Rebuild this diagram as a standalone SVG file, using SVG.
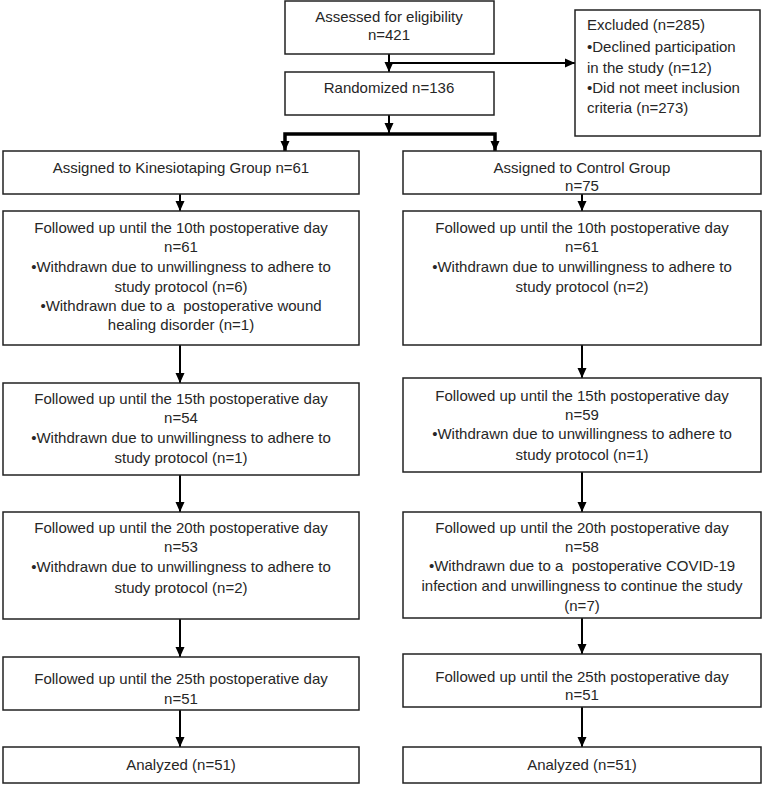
<svg xmlns="http://www.w3.org/2000/svg" width="762" height="785" viewBox="0 0 762 785">
<style>
.box{fill:#fff;stroke:#222;stroke-width:1.5}
.t{font-family:"Liberation Sans",Arial,sans-serif;font-size:15px;fill:#262626}
.c{text-anchor:middle}
.ln{stroke:#000;stroke-width:2;fill:none}
.thick{stroke:#000;stroke-width:3.5;fill:none}
</style>
<defs>
<marker id="ah" markerUnits="userSpaceOnUse" markerWidth="10" markerHeight="10" viewBox="0 0 10 10" refX="10" refY="5" orient="auto">
<path d="M0,0.5 L10,5 L0,9.5 z" fill="#000"/>
</marker>
</defs>
<g id="connectors">
<path class="ln" d="M389,54 V72" marker-end="url(#ah)"/>
<path class="ln" d="M389,63 H575" marker-end="url(#ah)"/>
<path class="ln" d="M389,115 V133" marker-end="url(#ah)"/>
<path class="thick" d="M285,151 V134 H495 V151"/>
<path class="ln" d="M285,136 V151" marker-end="url(#ah)"/>
<path class="ln" d="M495,136 V151" marker-end="url(#ah)"/>
<path class="ln" d="M180,194 V211" marker-end="url(#ah)"/>
<path class="ln" d="M582,194 V211" marker-end="url(#ah)"/>
<path class="ln" d="M180,345 V383" marker-end="url(#ah)"/>
<path class="ln" d="M582,345 V378" marker-end="url(#ah)"/>
<path class="ln" d="M180,475 V512" marker-end="url(#ah)"/>
<path class="ln" d="M582,472 V512" marker-end="url(#ah)"/>
<path class="ln" d="M180,619 V657" marker-end="url(#ah)"/>
<path class="ln" d="M582,618 V654" marker-end="url(#ah)"/>
<path class="ln" d="M180,710 V747" marker-end="url(#ah)"/>
<path class="ln" d="M582,707 V747" marker-end="url(#ah)"/>
</g>
<g id="assessed">
<rect class="box" x="285" y="1" width="209" height="53"/>
<text class="t c" x="389" y="22">Assessed for eligibility</text>
<text class="t c" x="389" y="40">n=421</text>
</g>
<g id="excluded">
<rect class="box" x="575" y="10" width="185" height="126"/>
<text class="t" x="587" y="30">Excluded (n=285)</text>
<text class="t" x="587" y="52">•Declined participation</text>
<text class="t" x="587" y="73">in the study (n=12)</text>
<text class="t" x="587" y="93">•Did not meet inclusion</text>
<text class="t" x="587" y="113">criteria (n=273)</text>
</g>
<g id="randomized">
<rect class="box" x="285" y="72" width="209" height="43"/>
<text class="t c" x="389" y="93">Randomized n=136</text>
</g>
<g id="kinesio">
<rect class="box" x="3" y="151" width="356" height="43"/>
<text class="t c" x="181" y="173">Assigned to Kinesiotaping Group n=61</text>
</g>
<g id="control">
<rect class="box" x="403" y="151" width="358" height="43"/>
<text class="t c" x="582" y="173">Assigned to Control Group</text>
<text class="t c" x="582" y="191">n=75</text>
</g>
<g id="k10">
<rect class="box" x="3" y="211" width="356" height="134"/>
<text class="t c" x="181" y="233">Followed up until the 10th postoperative day</text>
<text class="t c" x="181" y="252">n=61</text>
<text class="t c" x="181" y="272">•Withdrawn due to unwillingness to adhere to</text>
<text class="t c" x="181" y="292">study protocol (n=6)</text>
<text class="t c" x="181" y="311" xml:space="preserve">•Withdrawn due to a  postoperative wound</text>
<text class="t c" x="181" y="330">healing disorder (n=1)</text>
</g>
<g id="c10">
<rect class="box" x="403" y="211" width="358" height="134"/>
<text class="t c" x="582" y="233">Followed up until the 10th postoperative day</text>
<text class="t c" x="582" y="252">n=61</text>
<text class="t c" x="582" y="272">•Withdrawn due to unwillingness to adhere to</text>
<text class="t c" x="582" y="292">study protocol (n=2)</text>
</g>
<g id="k15">
<rect class="box" x="3" y="383" width="356" height="92"/>
<text class="t c" x="181" y="404">Followed up until the 15th postoperative day</text>
<text class="t c" x="181" y="423">n=54</text>
<text class="t c" x="181" y="443">•Withdrawn due to unwillingness to adhere to</text>
<text class="t c" x="181" y="463">study protocol (n=1)</text>
</g>
<g id="c15">
<rect class="box" x="403" y="378" width="358" height="94"/>
<text class="t c" x="582" y="401">Followed up until the 15th postoperative day</text>
<text class="t c" x="582" y="420">n=59</text>
<text class="t c" x="582" y="439">•Withdrawn due to unwillingness to adhere to</text>
<text class="t c" x="582" y="460">study protocol (n=1)</text>
</g>
<g id="k20">
<rect class="box" x="3" y="512" width="356" height="107"/>
<text class="t c" x="181" y="533">Followed up until the 20th postoperative day</text>
<text class="t c" x="181" y="552">n=53</text>
<text class="t c" x="181" y="572">•Withdrawn due to unwillingness to adhere to</text>
<text class="t c" x="181" y="593">study protocol (n=2)</text>
</g>
<g id="c20">
<rect class="box" x="403" y="512" width="358" height="106"/>
<text class="t c" x="582" y="533">Followed up until the 20th postoperative day</text>
<text class="t c" x="582" y="552">n=58</text>
<text class="t c" x="582" y="571" xml:space="preserve">•Withdrawn due to a  postoperative COVID-19</text>
<text class="t c" x="582" y="591">infection and unwillingness to continue the study</text>
<text class="t c" x="582" y="611">(n=7)</text>
</g>
<g id="k25">
<rect class="box" x="3" y="657" width="356" height="53"/>
<text class="t c" x="181" y="684">Followed up until the 25th postoperative day</text>
<text class="t c" x="181" y="704">n=51</text>
</g>
<g id="c25">
<rect class="box" x="403" y="654" width="358" height="53"/>
<text class="t c" x="582" y="682">Followed up until the 25th postoperative day</text>
<text class="t c" x="582" y="700">n=51</text>
</g>
<g id="kanalyzed">
<rect class="box" x="3" y="747" width="356" height="36"/>
<text class="t c" x="181" y="770">Analyzed (n=51)</text>
</g>
<g id="canalyzed">
<rect class="box" x="403" y="747" width="358" height="36"/>
<text class="t c" x="582" y="770">Analyzed (n=51)</text>
</g>
</svg>
